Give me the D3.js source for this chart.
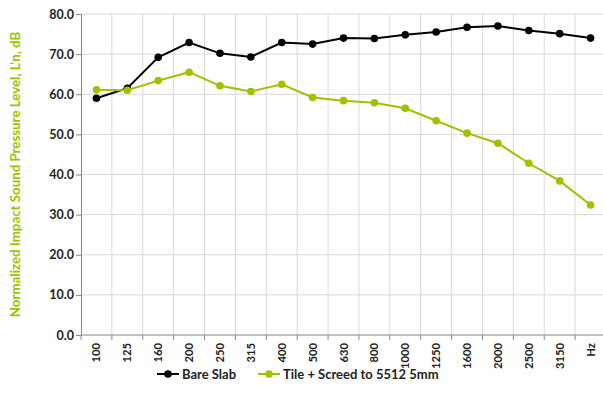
<!DOCTYPE html>
<html lang="en">
	<head>
		<meta charset="utf-8">
		<title>Impact sound</title>
		<script src="https://cdn.jsdelivr.net/npm/d3@7"></script>
		<style>
			body { margin: 0; background: #fff; }
			text { font-family: Lato, "Open Sans", sans-serif; }
		</style>
	</head>
	<body>
		<script>
			// Data
			var bands = ["100", "125", "160", "200", "250", "315", "400", "500", "630", "800",
			             "1000", "1250", "1600", "2000", "2500", "3150", "Hz"];
			var bareSlab = [59.0, 61.5, 69.2, 72.9, 70.2, 69.3, 72.9, 72.5, 74.0, 73.9,
			                74.8, 75.5, 76.7, 77.0, 75.9, 75.1, 74.0];
			var tileScreed = [61.1, 61.0, 63.4, 65.5, 62.1, 60.7, 62.5, 59.2, 58.4, 57.9,
			                  56.5, 53.4, 50.3, 47.8, 42.8, 38.4, 32.4];
			var yTicks = [0, 10, 20, 30, 40, 50, 60, 70, 80];
			var seriesNames = ["Bare Slab", "Tile + Screed to 5512 5mm"];
			var colors = ["#000000", "#9bc400"];

			var w = 603, h = 407;
			var padL = 81, padR = 606, padT = 14, padB = 335;

			var svg = d3.select("body").append("svg")
				.attr("width", w).attr("height", h);

			var x = d3.scaleBand().domain(bands).range([padL, padR]);
			var y = d3.scaleLinear().domain([0, 80]).range([padB, padT]);

			// gridlines
			svg.append("g").selectAll("line")
				.data(yTicks.slice(1))
				.enter().append("line")
				.attr("x1", padL).attr("x2", padR)
				.attr("y1", function(d) { return y(d); })
				.attr("y2", function(d) { return y(d); })
				.attr("stroke", "#d9d9d9").attr("stroke-width", 1);
			svg.append("g").selectAll("line")
				.data(bands.slice(1))
				.enter().append("line")
				.attr("x1", function(d) { return x(d); })
				.attr("x2", function(d) { return x(d); })
				.attr("y1", padT).attr("y2", padB)
				.attr("stroke", "#d9d9d9").attr("stroke-width", 1);

			// y axis
			var yAxis = d3.axisLeft(y).tickValues(yTicks).tickSize(5).tickFormat(d3.format(".1f"));
			var gy = svg.append("g").attr("transform", "translate(" + padL + ",0)").call(yAxis);
			gy.select(".domain").attr("stroke", "#868686");
			gy.selectAll(".tick line").attr("stroke", "#868686");
			gy.selectAll("text").attr("font-size", 12.5).attr("font-weight", "bold")
				.attr("fill", "#222").attr("x", -7);

			// x axis (ticks at band boundaries)
			var gx = svg.append("g").attr("transform", "translate(0," + padB + ")");
			gx.append("line").attr("x1", padL).attr("x2", padR)
				.attr("stroke", "#868686");
			gx.selectAll(".bt").data(bands).enter().append("line")
				.attr("class", "bt")
				.attr("x1", function(d) { return x(d); })
				.attr("x2", function(d) { return x(d); })
				.attr("y1", 0).attr("y2", 5).attr("stroke", "#868686");
			gx.selectAll("text").data(bands).enter().append("text")
				.attr("transform", function(d) {
					return "translate(" + (x(d) + x.bandwidth() / 2 + 4) + ",8) rotate(-90)";
				})
				.attr("text-anchor", "end")
				.attr("font-size", 11.2).attr("font-weight", "bold").attr("fill", "#222")
				.text(function(d) { return d; });

			// y title
			svg.append("text")
				.attr("transform", "translate(20," + ((padT + padB) / 2) + ") rotate(-90)")
				.attr("text-anchor", "middle")
				.attr("font-size", 13.3).attr("font-weight", "bold").attr("fill", "#9bc400")
				.text("Normalized Impact Sound Pressure Level, L'n, dB");

			// series
			var line = d3.line()
				.x(function(d, i) { return x(bands[i]) + x.bandwidth() / 2; })
				.y(function(d) { return y(d); });
			[bareSlab, tileScreed].forEach(function(s, k) {
				svg.append("path").datum(s).attr("d", line)
					.attr("fill", "none").attr("stroke", colors[k]).attr("stroke-width", 2);
				svg.append("g").selectAll("circle").data(s).enter().append("circle")
					.attr("cx", function(d, i) { return x(bands[i]) + x.bandwidth() / 2; })
					.attr("cy", function(d) { return y(d); })
					.attr("r", 3.8).attr("fill", colors[k]);
			});

			// legend
			var legX = [157, 258];
			seriesNames.forEach(function(n, k) {
				var g = svg.append("g").attr("transform", "translate(" + legX[k] + ",374)");
				g.append("line").attr("x1", 0).attr("x2", 22)
					.attr("stroke", colors[k]).attr("stroke-width", 2);
				g.append("circle").attr("cx", 11).attr("r", 3.8).attr("fill", colors[k]);
				g.append("text").attr("x", 25).attr("y", 4.5)
					.attr("font-size", 13).attr("font-weight", "bold").attr("fill", "#222")
					.text(n);
			});
		</script>
	</body>
</html>
